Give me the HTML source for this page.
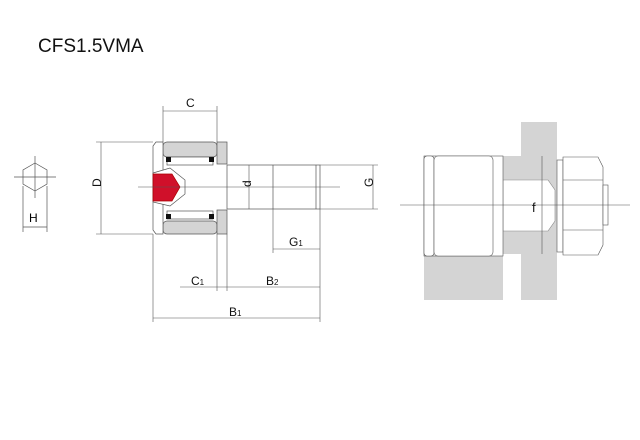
<!DOCTYPE html>
<html><head><style>body{margin:0;background:#fff}svg{display:block}text{font-family:"Liberation Sans",sans-serif}</style></head><body>
<svg width="640" height="440" viewBox="0 0 640 440" xmlns="http://www.w3.org/2000/svg">
<text x="38" y="52" font-size="19" fill="#111">CFS1.5VMA</text>
<g stroke="#555" stroke-width="0.7" fill="none">
<polygon points="35,163 47,170 47,184 35,191 23,184 23,170"/>
<line x1="14" y1="177" x2="56" y2="177"/><line x1="35" y1="156" x2="35" y2="198"/>
<line x1="23" y1="186" x2="23" y2="232"/><line x1="47" y1="186" x2="47" y2="232"/>
<line x1="23" y1="227" x2="47" y2="227"/>
</g>
<text x="29" y="222" font-size="12">H</text>
<g stroke="#555" stroke-width="0.7">
<rect x="163" y="142" width="54" height="15" rx="4" fill="#d4d4d4"/>
<rect x="163" y="221" width="54" height="13" rx="4" fill="#d4d4d4"/>
<rect x="217" y="142" width="10" height="22" fill="#d4d4d4"/>
<rect x="217" y="210" width="10" height="24" fill="#d4d4d4"/>
<rect x="167" y="157" width="46" height="8" fill="#fff"/>
<rect x="167" y="211" width="46" height="8" fill="#fff"/>
<path d="M156,142 L163,142 L163,234 L156,234 L153,230 L153,146 Z" fill="#fff"/>
<path d="M153,173 L170,168 L185,180 L185,194 L170,206 L153,202 Z" fill="#fff"/>
<path d="M153,174 L172,174 L180,187 L172,201 L153,201 Z" fill="#d0102a" stroke="#a00"/>
<rect x="227" y="165" width="93" height="44" fill="#fff"/>
<line x1="273" y1="165" x2="273" y2="209"/><line x1="316" y1="165" x2="316" y2="209"/>
</g>
<g fill="#111"><rect x="166" y="157" width="5" height="5"/><rect x="209" y="157" width="5" height="5"/><rect x="166" y="214" width="5" height="5"/><rect x="209" y="214" width="5" height="5"/></g>
<g stroke="#555" stroke-width="0.6" fill="none">
<line x1="138" y1="187" x2="340" y2="187"/>
<line x1="163" y1="106" x2="163" y2="142"/><line x1="217" y1="106" x2="217" y2="142"/>
<line x1="163" y1="111" x2="217" y2="111"/>
<line x1="96" y1="142" x2="153" y2="142"/><line x1="96" y1="234" x2="153" y2="234"/>
<line x1="101" y1="142" x2="101" y2="234"/>
<line x1="249" y1="165" x2="249" y2="209"/>
<line x1="320" y1="165" x2="378" y2="165"/><line x1="320" y1="209" x2="378" y2="209"/>
<line x1="373" y1="165" x2="373" y2="209"/>
<line x1="273" y1="209" x2="273" y2="253"/><line x1="320" y1="209" x2="320" y2="322"/>
<line x1="273" y1="249" x2="320" y2="249"/>
<line x1="153" y1="234" x2="153" y2="322"/><line x1="217" y1="234" x2="217" y2="291"/><line x1="227" y1="234" x2="227" y2="291"/>
<line x1="180" y1="287" x2="320" y2="287"/>
<line x1="153" y1="318" x2="320" y2="318"/>
</g>
<g font-size="12" fill="#111">
<text x="186" y="107">C</text>
<text x="96" y="192" transform="rotate(-90 96 187)">D</text>
<text x="246" y="192" transform="rotate(-90 246 187)">d</text>
<text x="368" y="192" transform="rotate(-90 368 187)">G</text>
<text x="289" y="246">G<tspan font-size="8">1</tspan></text>
<text x="191" y="285">C<tspan font-size="8">1</tspan></text>
<text x="266" y="285">B<tspan font-size="8">2</tspan></text>
<text x="229" y="316">B<tspan font-size="8">1</tspan></text>
</g>
<g stroke="#555" stroke-width="0.6">
<rect x="521" y="122" width="36" height="178" fill="#d4d4d4" stroke="none"/>
<rect x="503" y="156" width="20" height="24" fill="#d4d4d4" stroke="none"/>
<rect x="503" y="231" width="20" height="23" fill="#d4d4d4" stroke="none"/>
<path d="M503,180 L548,180 L555,190 L555,221 L548,231 L503,231 Z" fill="#fff" stroke="#888"/>
<rect x="424" y="256" width="79" height="44" fill="#d4d4d4" stroke="none"/>
<rect x="424" y="156" width="79" height="100" fill="#fff"/>
<rect x="424" y="156" width="10" height="100" rx="3" fill="#fff"/>
<rect x="434" y="156" width="59" height="100" rx="4" fill="#fff"/>
<rect x="557" y="160" width="6" height="92" fill="#fff"/>
<path d="M563,157 L598,157 L603,167 L603,245 L598,255 L563,255 Z" fill="#fff"/>
<line x1="563" y1="180" x2="603" y2="180"/><line x1="563" y1="230" x2="603" y2="230"/>
<rect x="603" y="185" width="5" height="40" fill="#fff"/>
<line x1="400" y1="205" x2="630" y2="205"/>
<line x1="542" y1="156" x2="542" y2="254"/>
</g>
<text x="532" y="212" font-size="13" fill="#111">f</text>
</svg>
</body></html>
